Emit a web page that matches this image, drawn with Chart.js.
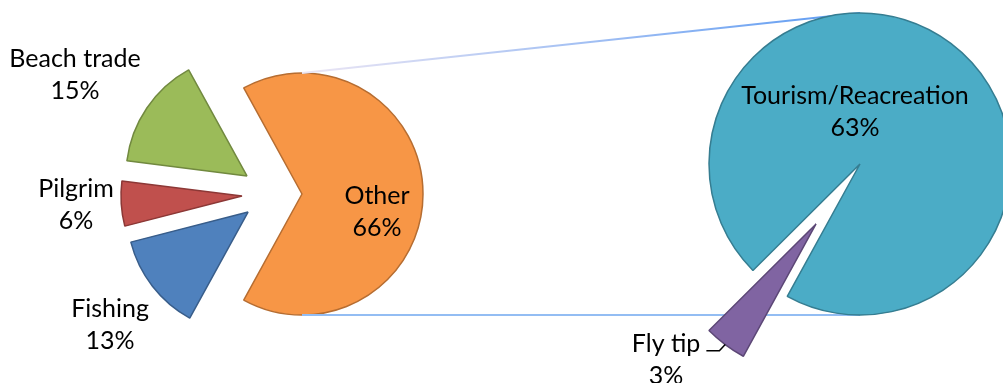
<!DOCTYPE html>
<html>
<head>
<meta charset="utf-8">
<script src="https://cdn.jsdelivr.net/npm/chart.js@4.4.0/dist/chart.umd.min.js"></script>
<style>
  html, body { margin: 0; padding: 0; background: #fff; }
  #wrap { position: relative; width: 1003px; height: 383px; overflow: hidden; }
  #wrap canvas { position: absolute; left: 0; top: 0; }
</style>
</head>
<body>
<div id="wrap">
  <canvas id="pieMain" width="1003" height="383"></canvas>
  <canvas id="pieSub" width="1040" height="383"></canvas>
</div>
<script>
// main pie (share of all activities)
const mainLabels = ["Fishing", "Pilgrim", "Beach trade", "Other"];
const mainValues = [13, 6, 15, 66];

// "Other" broken down in the second pie
const subLabels = ["Fly tip", "Tourism/Reacreation"];
const subValues = [3, 63];

const mainTotal = mainValues.reduce((a, b) => a + b, 0);

const FONT = "25px Lato";
Chart.defaults.font.family = "Lato";

// Excel-like explosion: move slices by a fraction of the radius
const explode = {
    id: "explode",
    afterDatasetUpdate(chart, args, opts) {
        const meta = chart.getDatasetMeta(0);
        meta.data.forEach((arc, i) => {
            const s = opts.shifts[i] || [0, 0];
            arc.x += s[0] * arc.outerRadius;
            arc.y += s[1] * arc.outerRadius;
        });
    }
};

// category name + percentage, two lines
const sliceLabels = {
    id: "sliceLabels",
    afterDatasetsDraw(chart, args, opts) {
        const ctx = chart.ctx;
        const meta = chart.getDatasetMeta(0);
        const values = chart.data.datasets[0].data;
        ctx.save();
        ctx.font = FONT;
        ctx.fillStyle = "#000";
        ctx.textAlign = "center";
        ctx.textBaseline = "middle";
        meta.data.forEach((arc, i) => {
            const o = opts.offsets[i];
            const x = arc.x + o[0] * arc.outerRadius;
            const y = arc.y + o[1] * arc.outerRadius;
            const name = chart.data.labels[i];
            const pct = Math.round(values[i] / mainTotal * 100) + "%";
            ctx.fillText(name, x, y - 16);
            ctx.fillText(pct, x, y + 16);

            if (opts.leader === i) {
                // small leader line to the middle of the slice's arc
                const w = ctx.measureText(name).width;
                const mid = (arc.startAngle + arc.endAngle) / 2;
                const ex = arc.x + Math.cos(mid) * arc.outerRadius;
                const ey = arc.y + Math.sin(mid) * arc.outerRadius;
                const lx = x + w / 2 + 6;
                const ly = y - 9;
                ctx.strokeStyle = "#000";
                ctx.lineWidth = 1.5;
                ctx.beginPath();
                ctx.moveTo(lx, ly);
                ctx.lineTo(lx + 13, ly);
                ctx.lineTo(ex, ey);
                ctx.stroke();
            }
        });
        ctx.restore();
    }
};

const mainChart = new Chart(document.getElementById("pieMain"), {
    type: "pie",
    data: {
        labels: mainLabels,
        datasets: [{
            data: mainValues,
            backgroundColor: ["#4F81BD", "#C0504D", "#9BBB59", "#F79646"],
            borderColor: ["#385D8A", "#8C3836", "#71893F", "#B66D31"],
            borderWidth: 1.5,
            clip: false
        }]
    },
    options: {
        responsive: false,
        animation: false,
        events: [],
        radius: 121,
        rotation: 208.8,
        layout: { padding: { left: 0, right: 399, top: 5, bottom: 0 } },
        plugins: {
            legend: { display: false },
            tooltip: { enabled: false },
            explode: { shifts: [[-0.446, 0.149], [-0.496, 0.017], [-0.455, -0.149], [0, 0]] },
            sliceLabels: { offsets: [[-1.14, 0.934], [-1.372, 0.074], [-1.421, -0.831], [0.62, 0.149]] }
        }
    },
    plugins: [explode, sliceLabels]
});

// lines joining the "Other" slice to the second pie
const connectors = {
    id: "connectors",
    beforeDatasetsDraw(chart) {
        const ctx = chart.ctx;
        const other = mainChart.getDatasetMeta(0).data[3];
        const ca = chart.chartArea;
        const cx = (ca.left + ca.right) / 2;
        const cy = (ca.top + ca.bottom) / 2;
        const r = chart.getDatasetMeta(0).data[1].outerRadius;
        const top0 = [other.x, other.y - other.outerRadius];
        const top1 = [cx, cy - r];
        const g = ctx.createLinearGradient(top0[0], 0, top1[0], 0);
        g.addColorStop(0, "#ece6f4");
        g.addColorStop(1, "#5b9af2");
        ctx.save();
        ctx.lineWidth = 2.2;
        ctx.strokeStyle = g;
        ctx.beginPath();
        ctx.moveTo(top0[0], top0[1]);
        ctx.lineTo(top1[0], top1[1]);
        ctx.stroke();
        ctx.lineWidth = 2;
        ctx.strokeStyle = "#93bdf3";
        ctx.beginPath();
        ctx.moveTo(other.x, other.y + other.outerRadius);
        ctx.lineTo(cx, cy + r);
        ctx.stroke();
        ctx.restore();
    }
};

new Chart(document.getElementById("pieSub"), {
    type: "pie",
    data: {
        labels: subLabels,
        datasets: [{
            data: subValues,
            backgroundColor: ["#8064A2", "#4BACC6"],
            borderColor: ["#5C4776", "#357D91"],
            borderWidth: 1.5,
            clip: false
        }]
    },
    options: {
        responsive: false,
        animation: false,
        events: [],
        radius: 151,
        rotation: 208.8,
        layout: { padding: { left: 720, right: 40, top: 0, bottom: 55 } },
        plugins: {
            legend: { display: false },
            tooltip: { enabled: false },
            explode: { shifts: [[-0.291, 0.397], [0, 0]] },
            sliceLabels: { offsets: [[-0.993, 0.90], [-0.033, -0.344]], leader: 0 }
        }
    },
    plugins: [connectors, explode, sliceLabels]
});
</script>
</body>
</html>
